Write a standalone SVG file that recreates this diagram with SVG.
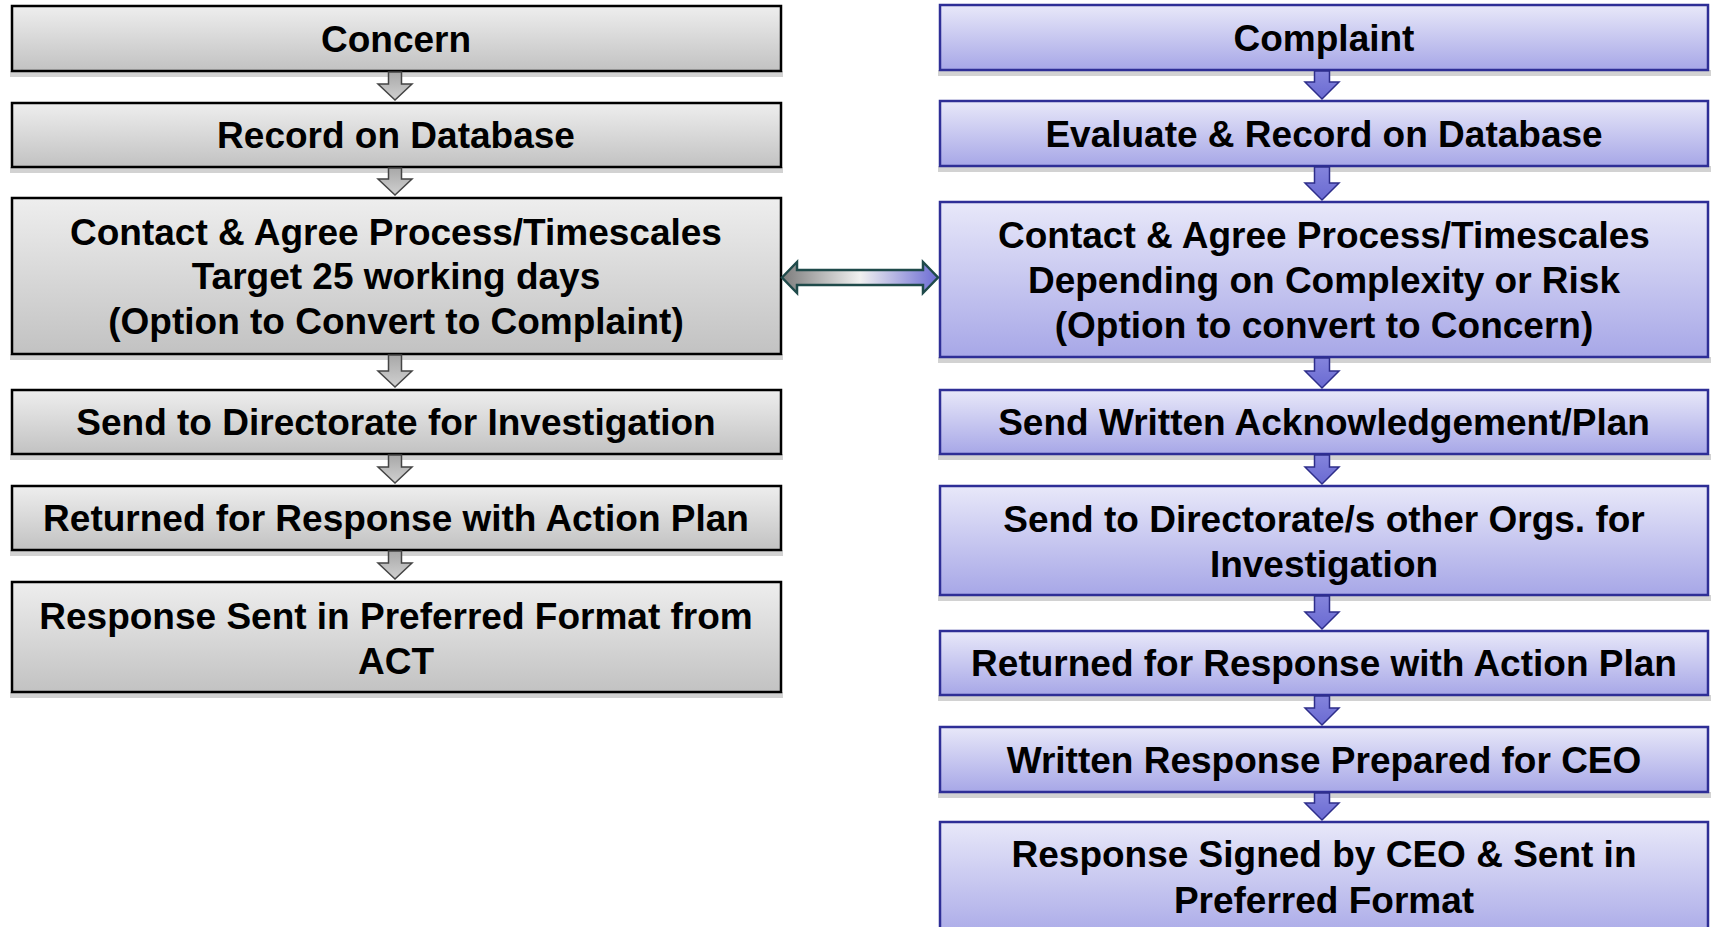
<svg xmlns="http://www.w3.org/2000/svg" width="1712" height="927" viewBox="0 0 1712 927">
  <defs>
    <linearGradient id="gGray" x1="0" y1="0" x2="0" y2="1">
      <stop offset="0" stop-color="#eeeeee"/>
      <stop offset="1" stop-color="#c2c2c2"/>
    </linearGradient>
    <linearGradient id="gBlue" x1="0" y1="0" x2="0" y2="1">
      <stop offset="0" stop-color="#e8e8f9"/>
      <stop offset="1" stop-color="#a7a7e7"/>
    </linearGradient>
    <linearGradient id="gGrayArrow" x1="0" y1="0" x2="0" y2="1">
      <stop offset="0" stop-color="#a8a8a8"/>
      <stop offset="1" stop-color="#d0d0d0"/>
    </linearGradient>
    <linearGradient id="gBlueArrow" x1="0" y1="0" x2="0" y2="1">
      <stop offset="0" stop-color="#8484dc"/>
      <stop offset="1" stop-color="#6a6ad2"/>
    </linearGradient>
    <linearGradient id="gLink" x1="0" y1="0" x2="1" y2="0">
      <stop offset="0" stop-color="#7c7c7c"/>
      <stop offset="0.5" stop-color="#f0f0f0"/>
      <stop offset="1" stop-color="#6c6cd4"/>
    </linearGradient>
  </defs>
  <style>
    .shadow { fill: #d2d2d2; }
    .boxG { fill: url(#gGray); stroke: #000000; stroke-width: 2.5; }
    .boxB { fill: url(#gBlue); stroke: #2e2e96; stroke-width: 2.5; }
    .lbl { font-family: "Liberation Sans", Arial, sans-serif; font-weight: bold; font-size: 37px; fill: #000000; text-anchor: middle; }
    .arrG { fill: url(#gGrayArrow); stroke: #444444; stroke-width: 1.5; stroke-linejoin: miter; }
    .arrB { fill: url(#gBlueArrow); stroke: #2e2e8a; stroke-width: 1.5; stroke-linejoin: miter; }
    .link { fill: url(#gLink); stroke: #1f4a4a; stroke-width: 2.5; stroke-linejoin: miter; }
  </style>
  <rect x="0" y="0" width="1712" height="927" fill="#ffffff"/>

  <!-- Concern pathway (left column) -->
  <g id="concern">
    <rect class="shadow" x="10" y="71" width="773" height="6"/>
    <rect class="boxG" x="12" y="6" width="769" height="65"/>
    <text class="lbl" x="396" y="52">Concern</text>
  </g>
  <g id="concern-record">
    <rect class="shadow" x="10" y="167" width="773" height="6"/>
    <rect class="boxG" x="12" y="103" width="769" height="64"/>
    <text class="lbl" x="396" y="148">Record on Database</text>
  </g>
  <g id="concern-contact">
    <rect class="shadow" x="10" y="354" width="773" height="6"/>
    <rect class="boxG" x="12" y="198" width="769" height="156"/>
    <text class="lbl" x="396" y="245">Contact &amp; Agree Process/Timescales</text>
    <text class="lbl" x="396" y="289">Target 25 working days</text>
    <text class="lbl" x="396" y="334">(Option to Convert to Complaint)</text>
  </g>
  <g id="concern-directorate">
    <rect class="shadow" x="10" y="454" width="773" height="6"/>
    <rect class="boxG" x="12" y="390" width="769" height="64"/>
    <text class="lbl" x="396" y="435">Send to Directorate for Investigation</text>
  </g>
  <g id="concern-returned">
    <rect class="shadow" x="10" y="550" width="773" height="6"/>
    <rect class="boxG" x="12" y="486" width="769" height="64"/>
    <text class="lbl" x="396" y="531">Returned for Response with Action Plan</text>
  </g>
  <g id="concern-response">
    <rect class="shadow" x="10" y="692" width="773" height="6"/>
    <rect class="boxG" x="12" y="582" width="769" height="110"/>
    <text class="lbl" x="396" y="629">Response Sent in Preferred Format from</text>
    <text class="lbl" x="396" y="674">ACT</text>
  </g>

  <!-- Complaint pathway (right column) -->
  <g id="complaint">
    <rect class="shadow" x="938" y="70" width="773" height="6"/>
    <rect class="boxB" x="940" y="5" width="768" height="65"/>
    <text class="lbl" x="1324" y="51">Complaint</text>
  </g>
  <g id="complaint-evaluate">
    <rect class="shadow" x="938" y="166" width="773" height="6"/>
    <rect class="boxB" x="940" y="101" width="768" height="65"/>
    <text class="lbl" x="1324" y="147">Evaluate &amp; Record on Database</text>
  </g>
  <g id="complaint-contact">
    <rect class="shadow" x="938" y="357" width="773" height="6"/>
    <rect class="boxB" x="940" y="202" width="768" height="155"/>
    <text class="lbl" x="1324" y="248">Contact &amp; Agree Process/Timescales</text>
    <text class="lbl" x="1324" y="293">Depending on Complexity or Risk</text>
    <text class="lbl" x="1324" y="338">(Option to convert to Concern)</text>
  </g>
  <g id="complaint-acknowledge">
    <rect class="shadow" x="938" y="454" width="773" height="6"/>
    <rect class="boxB" x="940" y="390" width="768" height="64"/>
    <text class="lbl" x="1324" y="435">Send Written Acknowledgement/Plan</text>
  </g>
  <g id="complaint-directorate">
    <rect class="shadow" x="938" y="595" width="773" height="6"/>
    <rect class="boxB" x="940" y="486" width="768" height="109"/>
    <text class="lbl" x="1324" y="532">Send to Directorate/s other Orgs. for</text>
    <text class="lbl" x="1324" y="577">Investigation</text>
  </g>
  <g id="complaint-returned">
    <rect class="shadow" x="938" y="695" width="773" height="6"/>
    <rect class="boxB" x="940" y="631" width="768" height="64"/>
    <text class="lbl" x="1324" y="676">Returned for Response with Action Plan</text>
  </g>
  <g id="complaint-prepared">
    <rect class="shadow" x="938" y="792" width="773" height="6"/>
    <rect class="boxB" x="940" y="727" width="768" height="65"/>
    <text class="lbl" x="1324" y="773">Written Response Prepared for CEO</text>
  </g>
  <g id="complaint-signed">
    <rect class="boxB" x="940" y="822" width="768" height="120"/>
    <text class="lbl" x="1324" y="867">Response Signed by CEO &amp; Sent in</text>
    <text class="lbl" x="1324" y="913">Preferred Format</text>
  </g>

  <!-- Connectors -->
  <g id="connectors">
    <!-- left column: shaft x 388.5..401.5, head 378..412 -->
    <path class="arrG" d="M388.5,72 H401.5 V84 H412 L395,100 L378,84 H388.5 Z"/>
    <path class="arrG" d="M388.5,168 H401.5 V179 H412 L395,195 L378,179 H388.5 Z"/>
    <path class="arrG" d="M388.5,355 H401.5 V371 H412 L395,387 L378,371 H388.5 Z"/>
    <path class="arrG" d="M388.5,455 H401.5 V467 H412 L395,483 L378,467 H388.5 Z"/>
    <path class="arrG" d="M388.5,551 H401.5 V563 H412 L395,579 L378,563 H388.5 Z"/>

    <!-- right column: shaft x 1314.5..1329.5, head 1305..1339 -->
    <path class="arrB" d="M1314.5,71 H1329.5 V82 H1339 L1322,99 L1305,82 H1314.5 Z"/>
    <path class="arrB" d="M1314.5,167 H1329.5 V183 H1339 L1322,200 L1305,183 H1314.5 Z"/>
    <path class="arrB" d="M1314.5,358 H1329.5 V371 H1339 L1322,388 L1305,371 H1314.5 Z"/>
    <path class="arrB" d="M1314.5,455 H1329.5 V467 H1339 L1322,484 L1305,467 H1314.5 Z"/>
    <path class="arrB" d="M1314.5,596 H1329.5 V612 H1339 L1322,629 L1305,612 H1314.5 Z"/>
    <path class="arrB" d="M1314.5,696 H1329.5 V708 H1339 L1322,725 L1305,708 H1314.5 Z"/>
    <path class="arrB" d="M1314.5,793 H1329.5 V803 H1339 L1322,820 L1305,803 H1314.5 Z"/>

    <!-- two-way link between the contact steps -->
    <path class="link" d="M782,277.5 L797,262 V270 H923 V262 L938,277.5 L923,293 V285 H797 V293 Z"/>
  </g>
</svg>
